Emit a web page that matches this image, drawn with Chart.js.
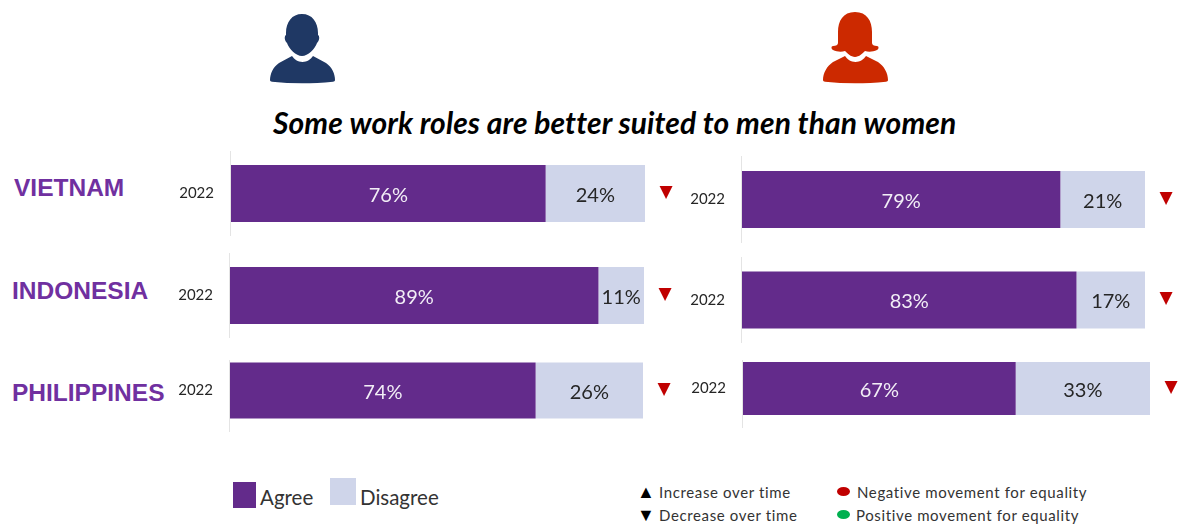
<!DOCTYPE html>
<html lang="en">
<head>
  <meta charset="UTF-8" />
  <title>Some work roles are better suited to men than women</title>
  <script src="https://cdn.jsdelivr.net/npm/chart.js"></script>
  <style>
    html, body { margin: 0; background: #fff; }
    body { position: relative; width: 1181px; height: 524px; overflow: hidden; font-family: Lato, sans-serif; }
    canvas { position: absolute; }
    .icons { position: absolute; left: 0; top: 0; }
    h1 { position: absolute; left: 273px; top: 104px; margin: 0; font-size: 30px; line-height: 36px; letter-spacing: 0.1px; font-style: italic; font-weight: 700; color: #000; white-space: nowrap; }
    .country { position: absolute; font: bold 24.5px/28px "Liberation Sans", sans-serif; color: #7030a0; white-space: nowrap; }
    .swatch { position: absolute; }
    .legend { position: absolute; font-size: 20.5px; line-height: 24px; color: #333; white-space: nowrap; }
    .note { position: absolute; font-size: 15px; line-height: 18px; color: #333; white-space: nowrap; letter-spacing: 0.63px; }
    .note span { display: inline-block; color: #000; font-size: 18px; line-height: 0; width: 20px; margin-left: -2px; margin-right: 2px; letter-spacing: 0; }
    .dot { position: absolute; width: 13px; height: 9px; border-radius: 50%; }
  </style>
</head>
<body>
  <svg class="icons" width="1181" height="100">
    <!-- man -->
    <path fill="#1f3864" d="M302 14c-10 0-16 8-16 19v2c-2 1-1.500 6 1 8 2 6 9 13 15 13s13-7 15-13c2.500-2 3-7 1-8v-2c0-11-6-19-16-19z"/>
    <path fill="#1f3864" d="M292 56l-13 7c-6 4-9 11-9 17 0 1 1 1.500 2 1.800 20 2 40 2 61 0 1-.3 2-.8 2-1.800 0-6-3-13-9-17l-13-7c-2 3-6 6-10.500 6s-8.500-3-10.500-6z"/>
    <!-- woman -->
    <path fill="#cc2900" d="M855 12c-12 0-17 9-17 20v11c0 2-2 3-5 3-2 0-2 3 0 4 4 2 9 2 12 1 2 2 6 6 10 6s8-4 10-6c3 1 8 1 12-1 2-1 2-4 0-4-3 0-5-1-5-3V32c0-11-5-20-17-20z"/>
    <path fill="#cc2900" d="M845 56l-12 6c-6 4-10 11-10 18 0 1 1 1.500 2 1.800 20 2 40 2 61 0 1-.3 2-.8 2-1.800 0-7-4-14-10-18l-12-6c-2 3-6 6-10.500 6s-8.500-3-10.500-6z"/>
  </svg>

  <h1>Some work roles are better suited to men than women</h1>

  <div class="country" style="left:14px;top:174px">VIETNAM</div>
  <div class="country" style="left:12px;top:277px">INDONESIA</div>
  <div class="country" style="left:12px;top:379px">PHILIPPINES</div>

  <div class="swatch" style="left:233px;top:482px;width:23px;height:26px;background:#632b8b"></div>
  <div class="legend" style="left:260px;top:485px">Agree</div>
  <div class="swatch" style="left:330px;top:478px;width:26px;height:27px;background:#cfd5ea"></div>
  <div class="legend" style="left:360px;top:485px">Disagree</div>

  <div class="note" style="left:639px;top:483px"><span>▲</span>Increase over time</div>
  <div class="note" style="left:639px;top:506px"><span>▼</span>Decrease over time</div>
  <div class="dot" style="left:837px;top:487px;background:#c00000"></div>
  <div class="note" style="left:857px;top:483px">Negative movement for equality</div>
  <div class="dot" style="left:837px;top:510px;background:#00b050"></div>
  <div class="note" style="left:856px;top:506px">Positive movement for equality</div>

  <script>
    const years = ['2022'];
    const maleAgree = [76, 89, 74];
    const maleDisagree = [24, 11, 26];
    const femaleAgree = [79, 83, 67];
    const femaleDisagree = [21, 17, 33];
    const maleTrend = ['▼', '▼', '▼'];
    const femaleTrend = ['▼', '▼', '▼'];

    const AGREE = '#632b8b';
    const DISAGREE = '#cfd5ea';
    const LABEL_W = 60;
    const TREND_W = 40;

    // plot box on the page, bar height, and how far down the axis rule starts
    const malePanels = [
      { x: 231, w: 414, top: 151, h: 85, barH: 57, ruleFrom: 0 },
      { x: 230, w: 414, top: 253, h: 85, barH: 57, ruleFrom: 0 },
      { x: 230, w: 413, top: 349, h: 83, barH: 56, ruleFrom: 11 }
    ];
    const femalePanels = [
      { x: 742, w: 403, top: 156, h: 87, barH: 57, ruleFrom: 0 },
      { x: 742, w: 403, top: 257, h: 86, barH: 57, ruleFrom: 0 },
      { x: 743, w: 407, top: 349, h: 79, barH: 53, ruleFrom: 11 }
    ];

    // axis rule, share inside each segment, trend arrow past the bar
    const barText = {
      id: 'barText',
      beforeDatasetsDraw(chart, args, opts) {
        const { ctx, chartArea } = chart;
        ctx.save();
        ctx.strokeStyle = '#e4e4e4';
        ctx.beginPath();
        ctx.moveTo(chartArea.left - 0.5, chartArea.top + opts.ruleFrom);
        ctx.lineTo(chartArea.left - 0.5, chartArea.bottom);
        ctx.stroke();
        ctx.restore();
      },
      afterDatasetsDraw(chart, args, opts) {
        const { ctx, chartArea } = chart;
        ctx.save();
        ctx.textAlign = 'center';
        ctx.textBaseline = 'middle';
        chart.data.datasets.forEach((ds, i) => {
          const bar = chart.getDatasetMeta(i).data[0];
          const left = chart.scales.x.getPixelForValue(i === 0 ? 0 : chart.data.datasets[0].data[0]);
          ctx.font = '20px Lato';
          ctx.fillStyle = i === 0 ? '#f2eef6' : '#262626';
          ctx.fillText(ds.data[0] + '%', (left + bar.x) / 2, bar.y + 2);
        });
        ctx.font = '17px "DejaVu Sans"';
        ctx.fillStyle = '#c00000';
        ctx.fillText(opts.trend, chartArea.right + 21, chart.getDatasetMeta(0).data[0].y - 1);
        ctx.restore();
      }
    };

    function drawPanel(panel, agree, disagree, trend) {
      const canvas = document.createElement('canvas');
      canvas.width = LABEL_W + panel.w + TREND_W;
      canvas.height = panel.h;
      canvas.style.left = (panel.x - LABEL_W) + 'px';
      canvas.style.top = panel.top + 'px';
      document.body.appendChild(canvas);

      new Chart(canvas.getContext('2d'), {
        type: 'bar',
        data: {
          labels: years,
          datasets: [
            { label: 'Agree', data: [agree], backgroundColor: AGREE },
            { label: 'Disagree', data: [disagree], backgroundColor: DISAGREE }
          ]
        },
        options: {
          indexAxis: 'y',
          responsive: false,
          animation: false,
          layout: { padding: { right: TREND_W } },
          datasets: { bar: { barPercentage: 1, categoryPercentage: panel.barH / panel.h } },
          scales: {
            x: { stacked: true, min: 0, max: 100, display: false },
            y: {
              stacked: true,
              // tick padding also eats into the plot height unless it is reset here
              afterFit(scale) {
                scale.width = LABEL_W;
                scale.paddingTop = 0;
                scale.paddingBottom = 0;
              },
              grid: { display: false, drawTicks: false },
              border: { display: false },
              ticks: { padding: 17, color: '#262626', font: { family: 'Lato', size: 15 } }
            }
          },
          plugins: {
            legend: { display: false },
            tooltip: { enabled: false },
            barText: { trend, ruleFrom: panel.ruleFrom }
          }
        },
        plugins: [barText]
      });
    }

    malePanels.forEach((p, i) => drawPanel(p, maleAgree[i], maleDisagree[i], maleTrend[i]));
    femalePanels.forEach((p, i) => drawPanel(p, femaleAgree[i], femaleDisagree[i], femaleTrend[i]));
  </script>
</body>
</html>
